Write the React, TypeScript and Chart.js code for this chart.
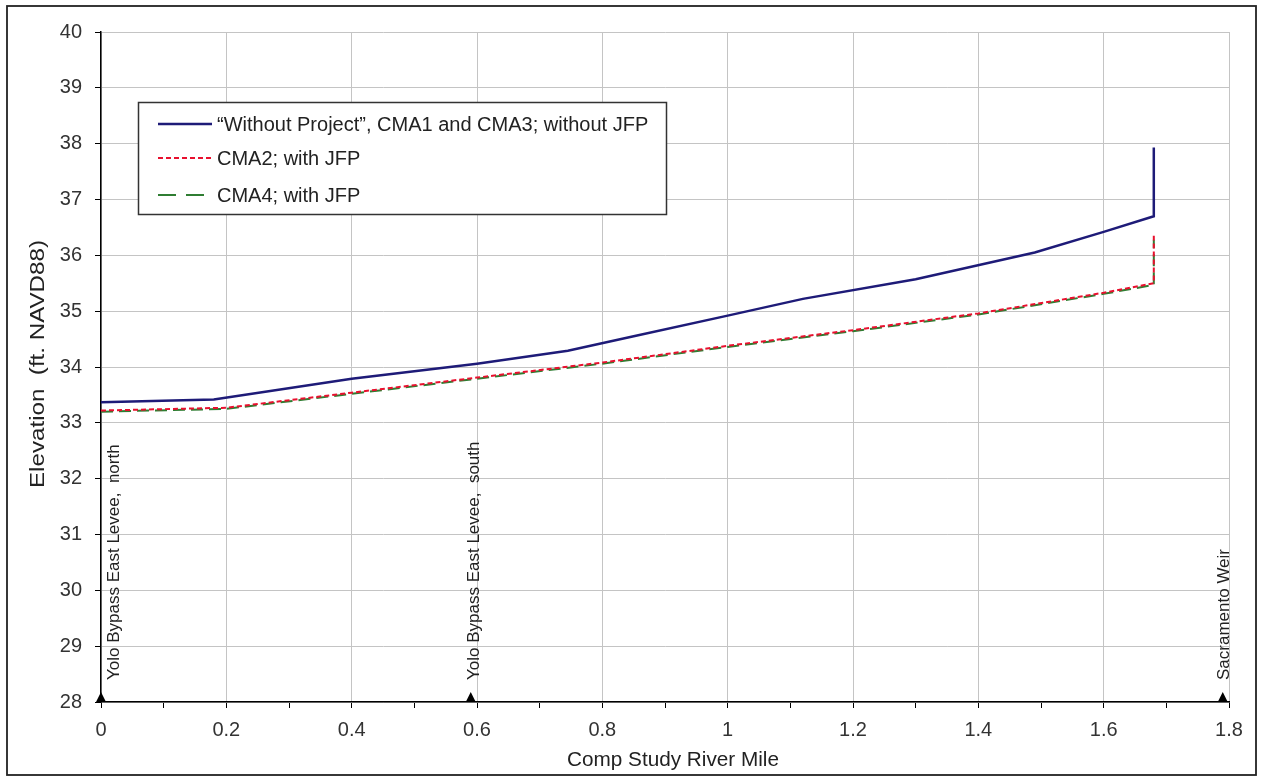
import React, { useEffect, useRef } from "react";
import { Chart, registerables } from "chart.js";

Chart.register(...registerables);

// ---------- data ----------
const SERIES_NAMES = [
  "\u201CWithout Project\u201D, CMA1 and CMA3; without JFP",
  "CMA2; with JFP",
  "CMA4; with JFP",
];
const MILES_WITHOUT = [0, 0.18, 0.4, 0.6, 0.745, 0.85, 1.0, 1.12, 1.3, 1.49, 1.6, 1.68, 1.68];
const ELEV_WITHOUT = [33.37, 33.42, 33.79, 34.06, 34.29, 34.55, 34.92, 35.22, 35.57, 36.05, 36.42, 36.7, 37.93];
const MILES_WITH = [0, 0.2, 0.4, 0.6, 0.8, 1.0, 1.2, 1.4, 1.6, 1.68, 1.68];
const ELEV_CMA2 = [33.22, 33.27, 33.54, 33.81, 34.08, 34.38, 34.66, 34.96, 35.33, 35.5, 36.35];
const ELEV_CMA4 = [33.2, 33.25, 33.52, 33.79, 34.06, 34.36, 34.64, 34.94, 35.31, 35.47, 36.28];
const LANDMARK_MILES = [0, 0.59, 1.79];
const LANDMARK_NAMES = [
  "Yolo Bypass East Levee,  north",
  "Yolo Bypass East Levee,  south",
  "Sacramento Weir",
];
const X_AXIS_TITLE = "Comp Study River Mile";
const Y_AXIS_TITLE = "Elevation  (ft. NAVD88)";
const X_MIN = 0, X_MAX = 1.8, X_STEP = 0.1;
const Y_MIN = 28, Y_MAX = 40, Y_STEP = 1;

// ---------- styles ----------
const FONT = "'Liberation Sans', Arial, Helvetica, sans-serif";
const COLORS = ["#1e1b78", "#e8102e", "#2f7d32"];
const DASHES: number[][] = [[], [5, 3], [12, 6]];
const WIDTHS = [2.5, 2, 2];
const LEGEND_DASHES: number[][] = [[], [5, 3], [18, 10]];
const LANDMARK_DX = [18, 8, 6];

const toPoints = (xs: number[], ys: number[]) => xs.map((x, i) => ({ x, y: ys[i] }));

const decorPlugin = {
  id: "decor",
  beforeDraw(chart: any) {
    const ctx = chart.ctx;
    ctx.save();
    ctx.fillStyle = "#ffffff";
    ctx.fillRect(0, 0, chart.width, chart.height);
    ctx.restore();
  },
  afterDatasetsDraw(chart: any) {
    const ctx = chart.ctx;
    const xs = chart.scales.x;
    const ys = chart.scales.y;
    const baseY = ys.getPixelForValue(Y_MIN);
    ctx.save();
    LANDMARK_MILES.forEach((m, i) => {
      const px = xs.getPixelForValue(m);
      ctx.fillStyle = "#000";
      ctx.beginPath();
      ctx.moveTo(px - 5, baseY);
      ctx.lineTo(px + 5, baseY);
      ctx.lineTo(px, baseY - 10);
      ctx.closePath();
      ctx.fill();
      ctx.save();
      ctx.translate(px + LANDMARK_DX[i], baseY - 22);
      ctx.rotate(-Math.PI / 2);
      ctx.font = `17px ${FONT}`;
      ctx.fillStyle = "#222";
      ctx.textAlign = "left";
      ctx.textBaseline = "alphabetic";
      ctx.fillText(LANDMARK_NAMES[i], 0, 0);
      ctx.restore();
    });
    ctx.restore();
  },
  afterDraw(chart: any) {
    const ctx = chart.ctx;
    ctx.save();
    ctx.strokeStyle = "#222";
    ctx.lineWidth = 1.8;
    ctx.strokeRect(7, 6, 1249, 769);

    const lx = 138.5, ly = 102.5, lw = 528, lh = 112;
    ctx.fillStyle = "#fff";
    ctx.fillRect(lx, ly, lw, lh);
    ctx.strokeStyle = "#333";
    ctx.lineWidth = 1.5;
    ctx.strokeRect(lx, ly, lw, lh);
    const rows = [124, 158, 195];
    SERIES_NAMES.forEach((name, i) => {
      ctx.save();
      ctx.strokeStyle = COLORS[i];
      ctx.lineWidth = WIDTHS[i];
      ctx.setLineDash(LEGEND_DASHES[i]);
      ctx.beginPath();
      ctx.moveTo(158, rows[i]);
      ctx.lineTo(212, rows[i]);
      ctx.stroke();
      ctx.restore();
      ctx.font = `20px ${FONT}`;
      ctx.fillStyle = "#222";
      ctx.textAlign = "left";
      ctx.textBaseline = "alphabetic";
      ctx.fillText(name, 217, rows[i] + 7);
    });

    ctx.fillStyle = "#222";
    ctx.font = `20px ${FONT}`;
    ctx.textAlign = "center";
    ctx.textBaseline = "alphabetic";
    const xw = ctx.measureText(X_AXIS_TITLE).width;
    ctx.save();
    ctx.translate(673, 766);
    ctx.scale(212 / xw, 1);
    ctx.fillText(X_AXIS_TITLE, 0, 0);
    ctx.restore();

    const yw = ctx.measureText(Y_AXIS_TITLE).width;
    ctx.save();
    ctx.translate(44, 364);
    ctx.rotate(-Math.PI / 2);
    ctx.scale(248 / yw, 1);
    ctx.fillText(Y_AXIS_TITLE, 0, 0);
    ctx.restore();
    ctx.restore();
  },
};

export default function App() {
  const ref = useRef<HTMLCanvasElement | null>(null);
  useEffect(() => {
    if (!ref.current) return;
    Chart.defaults.font.family = FONT;
    const data = [
      toPoints(MILES_WITHOUT, ELEV_WITHOUT),
      toPoints(MILES_WITH, ELEV_CMA2),
      toPoints(MILES_WITH, ELEV_CMA4),
    ];
    const chart = new Chart(ref.current, {
      type: "line",
      data: {
        datasets: data.map((d, i) => ({
          label: SERIES_NAMES[i],
          data: d,
          borderColor: COLORS[i],
          backgroundColor: COLORS[i],
          borderWidth: WIDTHS[i],
          borderDash: DASHES[i],
          pointRadius: 0,
          tension: 0,
          fill: false,
        })),
      },
      options: {
        animation: false,
        responsive: false,
        maintainAspectRatio: false,
        layout: { padding: { top: 32, right: 34, left: 0, bottom: 0 } },
        plugins: { legend: { display: false }, tooltip: { enabled: false } },
        scales: {
          x: {
            type: "linear",
            min: X_MIN,
            max: X_MAX,
            afterFit: (s: any) => { s.height = 75; },
            ticks: {
              stepSize: X_STEP,
              autoSkip: false,
              maxRotation: 0,
              padding: 10,
              color: "#333",
              font: { size: 20, family: FONT },
              callback: (v: any) => {
                const k = Math.round(Number(v) * 10);
                return k % 2 === 0 ? String(k / 10) : "";
              },
            },
            grid: {
              color: (c: any) => {
                const k = Math.round(Number(c.tick?.value ?? 0) * 10);
                return k % 2 === 0 ? "#c4c4c4" : "rgba(0,0,0,0)";
              },
              tickColor: "#000",
              tickLength: 6,
              lineWidth: 1,
            },
            border: { color: "#000", width: 1.5 },
          },
          y: {
            type: "linear",
            min: Y_MIN,
            max: Y_MAX,
            afterFit: (s: any) => { s.width = 101; },
            ticks: {
              stepSize: Y_STEP,
              padding: 13,
              color: "#333",
              font: { size: 20, family: FONT },
              callback: (v: any) => String(v),
            },
            grid: { color: "#c4c4c4", tickColor: "#000", tickLength: 6, lineWidth: 1 },
            border: { color: "#000", width: 1.5 },
          },
        },
      },
      plugins: [decorPlugin],
    } as any);
    return () => chart.destroy();
  }, []);
  return (
    <div style={{ position: "fixed", left: 0, top: 0, width: 1263, height: 777, background: "#fff" }}>
      <canvas ref={ref} width={1263} height={777} style={{ display: "block", width: 1263, height: 777 }} />
    </div>
  );
}
